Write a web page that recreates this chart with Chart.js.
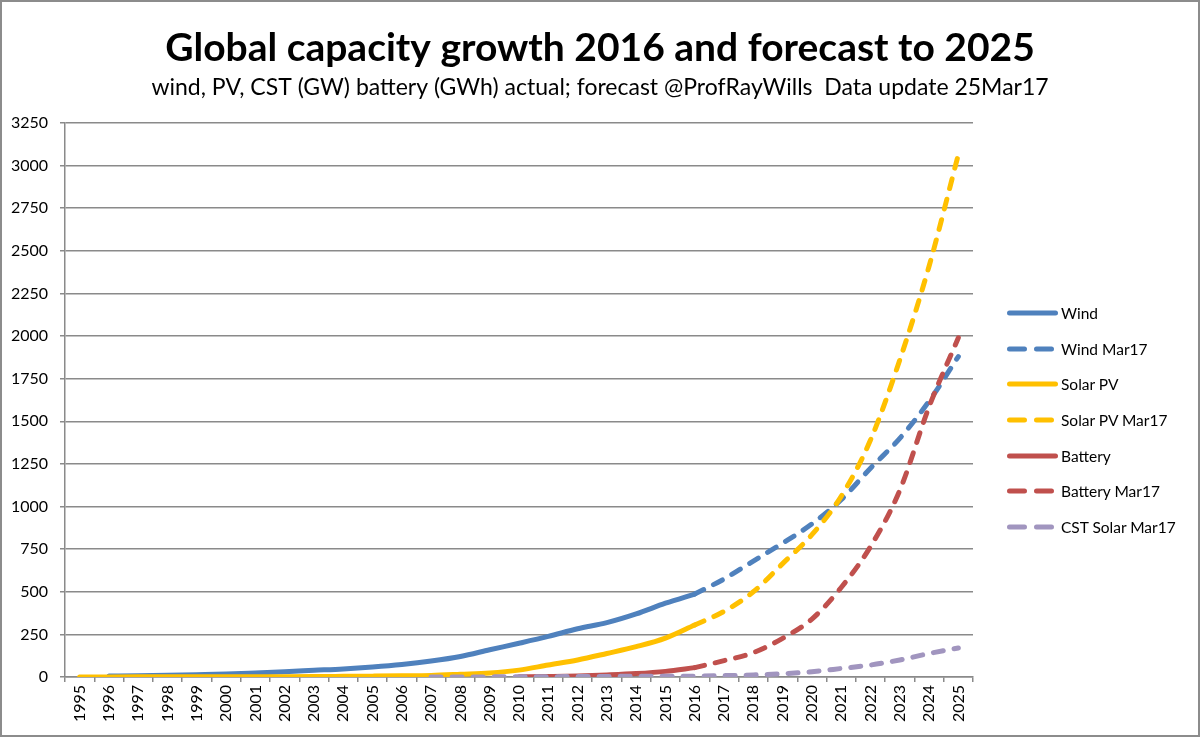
<!DOCTYPE html>
<html>
<head>
<meta charset="utf-8">
<script src="https://cdn.jsdelivr.net/npm/chart.js@4.4.1/dist/chart.umd.min.js"></script>
<style>
  html, body { margin: 0; padding: 0; background: #fff; }
  .chart-box {
    position: relative;
    width: 1200px;
    height: 737px;
    box-sizing: border-box;
    border: 2px solid #8c8c8c;
    overflow: hidden;
  }
  .chart-box canvas { position: absolute; left: -2px; top: -2px; }
  .chart-legend {
    position: absolute;
    left: 1003px;
    top: 293px;
    margin: 0;
    padding: 0;
    list-style: none;
    font-family: Lato, "Open Sans", sans-serif;
    font-size: 15.5px;
    color: #000;
  }
  .chart-legend__item {
    display: flex;
    align-items: center;
    height: 35.7px;
  }
  .chart-legend__item svg { display: block; margin-right: 2px; }
</style>
</head>
<body>
<div class="chart-box">
  <canvas id="capacity-chart" width="1200" height="737"></canvas>
  <ul class="chart-legend js-chart-legend"></ul>
</div>
<script>
const years = [
  '1995', '1996', '1997', '1998', '1999', '2000', '2001', '2002', '2003', '2004',
  '2005', '2006', '2007', '2008', '2009', '2010', '2011', '2012', '2013', '2014',
  '2015', '2016', '2017', '2018', '2019', '2020', '2021', '2022', '2023', '2024', '2025',
];

// actual values 1995..2016, forecasts 2016..2025
const windActual = [null, 6.1, 7.6, 10.2, 13.6, 17.4, 23.9, 31.1, 39.4, 47.6, 59.1,
  73.9, 93.9, 120.6, 159.8, 197.9, 238, 282.8, 318.7, 369.8, 432.7, 486.8];
const windForecast = [486.8, 575, 680, 785, 898, 1040, 1225, 1400, 1618, 1880];
const solarActual = [0.6, 0.7, 0.8, 1.0, 1.1, 1.3, 1.6, 2.1, 2.8, 3.9, 5.1,
  6.7, 9.2, 15.8, 23.2, 40.3, 70.5, 100, 138, 178, 228, 305];
const solarForecast = [305, 385, 500, 665, 835, 1060, 1390, 1860, 2410, 3065];
const batteryActual = [1, 3, 6, 12, 20, 33, 55]; // 2010..2016
const batteryForecast = [55, 96, 143, 227, 340, 525, 765, 1095, 1585, 1990];
const cstForecast = [0.5, 0.6, 0.8, 1.3, 1.7, 2.6, 3.4, 4.4, 4.8, 5, // 2007..2016
  8, 12, 19, 31, 50, 70, 100, 138, 170];

const yTicks = { min: 0, max: 3250, step: 250 };

function placeAt(firstYear, values) {
  const start = years.indexOf(firstYear);
  return years.map((y, i) => (i >= start && i - start < values.length ? values[i - start] : null));
}

const seriesList = [
  { label: 'Wind', data: placeAt('1995', windActual), color: '#4f81bd', dashed: false },
  { label: 'Wind Mar17', data: placeAt('2016', windForecast), color: '#4f81bd', dashed: true },
  { label: 'Solar PV', data: placeAt('1995', solarActual), color: '#ffc000', dashed: false },
  { label: 'Solar PV Mar17', data: placeAt('2016', solarForecast), color: '#ffc000', dashed: true },
  { label: 'Battery', data: placeAt('2010', batteryActual), color: '#c0504d', dashed: false },
  { label: 'Battery Mar17', data: placeAt('2016', batteryForecast), color: '#c0504d', dashed: true },
  { label: 'CST Solar Mar17', data: placeAt('2007', cstForecast), color: '#a195bf', dashed: true },
];

const font = 'Lato, "Open Sans", sans-serif';
const gridColor = '#8a8a8a';

function buildLegend() {
  const ul = document.querySelector('.js-chart-legend');
  seriesList.forEach((s) => {
    const dash = s.dashed ? 'stroke-dasharray="15 12"' : '';
    const x2 = s.dashed ? 49.5 : 50.5;
    ul.insertAdjacentHTML('beforeend', `<li class="chart-legend__item">
      <svg width="54" height="10"><line x1="4.5" y1="5" x2="${x2}" y2="5"
        stroke="${s.color}" stroke-width="5" stroke-linecap="round" ${dash}/></svg>
      <span>${s.label}</span>
    </li>`);
  });
}

buildLegend();

const ctx = document.getElementById('capacity-chart').getContext('2d');

new Chart(ctx, {
  type: 'line',
  data: {
    labels: years,
    datasets: seriesList.map((s, i) => ({
      label: s.label,
      data: s.data,
      borderColor: s.color,
      backgroundColor: s.color,
      borderWidth: 5,
      borderCapStyle: 'round',
      borderJoinStyle: 'round',
      borderDash: s.dashed ? [10, 11] : [],
      pointRadius: 0,
      pointHoverRadius: 0,
      cubicInterpolationMode: 'monotone',
      order: seriesList.length - i,
    })),
  },
  options: {
    responsive: false,
    animation: false,
    layout: { padding: 0 },
    plugins: {
      legend: { display: false },
      tooltip: { enabled: false },
      title: {
        display: true,
        text: 'Global capacity growth 2016 and forecast to 2025',
        color: '#000',
        font: { family: font, size: 39, weight: 'bold', lineHeight: 1.2 },
        padding: { top: 25, bottom: 0 },
      },
      subtitle: {
        display: true,
        text: 'wind, PV, CST (GW) battery (GWh) actual; forecast @ProfRayWills  Data update 25Mar17',
        color: '#000',
        font: { family: font, size: 23, lineHeight: 1.2 },
        padding: { top: 2, bottom: 21.6 },
      },
    },
    scales: {
      x: {
        offset: true,
        afterFit(scale) { scale.height = 60; },
        grid: {
          offset: true,
          drawOnChartArea: false,
          drawTicks: true,
          tickLength: 5,
          color: gridColor,
          lineWidth: 1.5,
        },
        border: { color: gridColor, width: 1.5 },
        ticks: {
          color: '#000',
          font: { family: font, size: 16 },
          padding: 3,
          minRotation: 90,
          maxRotation: 90,
          autoSkip: false,
        },
      },
      y: {
        min: yTicks.min,
        max: yTicks.max,
        afterFit(scale) { scale.width = 65; },
        grid: {
          color: gridColor,
          lineWidth: 1.5,
          tickLength: 5,
        },
        border: { color: gridColor, width: 1.5 },
        ticks: {
          stepSize: yTicks.step,
          color: '#000',
          font: { family: font, size: 16 },
          padding: 12,
          callback: (value) => String(value),
        },
      },
      // empty axis that keeps room for the legend on the right
      legendSpace: {
        position: 'right',
        afterFit(scale) { scale.width = 227; },
        grid: { display: false, drawTicks: false },
        border: { display: false },
        ticks: { display: false },
      },
    },
  },
});
</script>
</body>
</html>
